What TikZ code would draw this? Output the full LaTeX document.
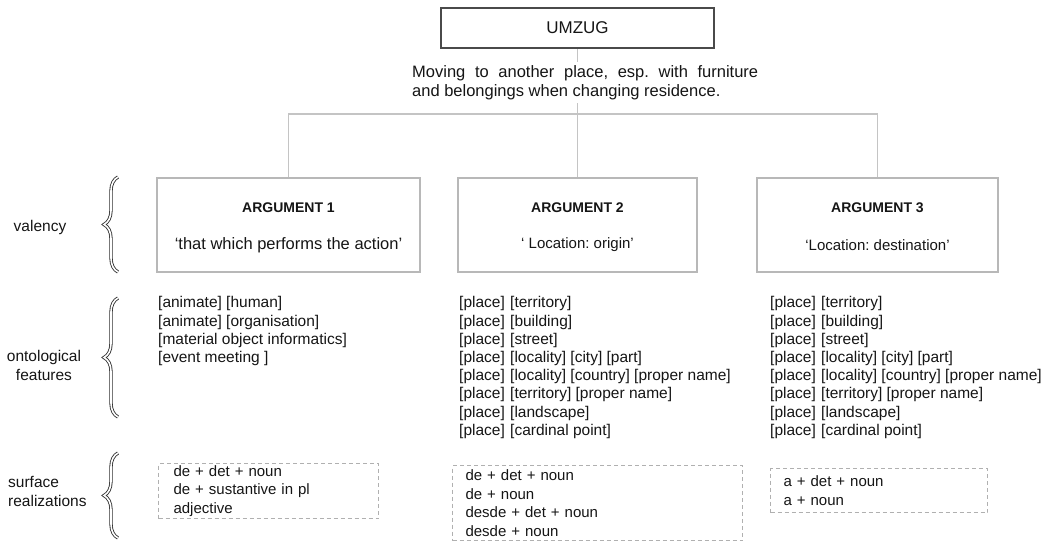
\documentclass[tikz,border=0pt]{standalone}
\usepackage{fontspec}
\setmainfont{Liberation Sans}
\usetikzlibrary{decorations.pathreplacing}
\definecolor{txt}{HTML}{151515}
\definecolor{boxgray}{HTML}{B8B8B8}
\definecolor{darkbox}{HTML}{4A4A4A}
\definecolor{linegray}{HTML}{C4C4C4}
\definecolor{dashgray}{HTML}{B0B0B0}
\definecolor{bracecol}{HTML}{2E2E2E}
\newcommand{\plc}[1]{\makebox[51pt][l]{[place]}#1}
\frenchspacing
\begin{document}
\begin{tikzpicture}[x=1pt,y=-1pt,
  every node/.style={text=txt},
  umzugbox/.style={draw=darkbox, line width=2pt, minimum width=273pt, minimum height=40pt, inner sep=0pt, font=\fontsize{17}{20}\selectfont},
  argbox/.style={draw=boxgray, line width=1.8pt, minimum height=94pt, inner sep=0pt},
  conn/.style={draw=linegray, line width=1.8pt},
  argtitle/.style={font=\fontsize{14}{16}\selectfont\bfseries, inner sep=0pt},
  argquote/.style={font=\fontsize{15}{18}\selectfont, inner sep=0pt},
  featlist/.style={font=\fontsize{15.5}{18.2}\selectfont, align=left, anchor=north west, inner sep=0pt},
  surfbox/.style={draw=dashgray, dash pattern=on 4pt off 3pt, line width=1pt, anchor=north west, align=left, inner ysep=0pt, font=\fontsize{15}{18.5}\selectfont},
  rowlabel/.style={font=\fontsize{15.5}{19}\selectfont, inner sep=0pt},
  defn/.style={font=\fontsize{16.5}{19}\selectfont, align=left, fill=white, inner xsep=0pt, inner ysep=3pt},
  bracest/.style={decorate, decoration={brace, amplitude=14pt}, draw=bracecol, line width=0.85pt, double=white, double distance=1.6pt}
]
\useasboundingbox (0,0) rectangle (1045,542);

% top
\node[umzugbox] (umzug) at (577.5,28) {UMZUG};

% argument boxes
\node[argbox, minimum width=263pt] (arg1) at (288.5,225) {};
\node[argbox, minimum width=239pt] (arg2) at (577.5,225) {};
\node[argbox, minimum width=241pt] (arg3) at (877.5,225) {};

% connectors
\coordinate (bar) at (577.5,114);
\draw[conn] (umzug.south) -- (bar);
\draw[conn] (arg1.north) |- (bar) -| (arg3.north);
\draw[conn] (bar) -- (arg2.north);

% definition
\node[defn, anchor=west] (def) at (412,82.5) {\makebox[346pt][s]{Moving to another place, esp. with furniture}\\and belongings when changing residence.};

% argument texts
\node[argtitle] (t1) at ([yshift=17pt]arg1.center) {ARGUMENT 1};
\node[argquote, font=\fontsize{16.5}{19}\selectfont] (q1) at ([yshift=-20pt]arg1.center) {‘that which performs the action’};
\node[argtitle] (t2) at ([yshift=17pt]arg2.center) {ARGUMENT 2};
\node[argquote] (q2) at ([yshift=-20pt]arg2.center) {‘ Location: origin’};
\node[argtitle] (t3) at ([yshift=17pt]arg3.center) {ARGUMENT 3};
\node[argquote] (q3) at ([yshift=-20pt]arg3.center) {‘Location: destination’};

% row labels
\node[rowlabel] (lv) at (40,227) {valency};
\node[rowlabel, align=center] (lo) at (44,365) {ontological\\features};
\node[rowlabel, align=left, anchor=west] (ls) at (8,491) {surface\\realizations};

% braces
\coordinate (b1a) at (118,272); \coordinate (b1b) at (118,177);
\coordinate (b2a) at (118,417); \coordinate (b2b) at (118,298);
\coordinate (b3a) at (118,538); \coordinate (b3b) at (118,453);
\draw[bracest] (b1a) -- (b1b);
\draw[bracest] (b2a) -- (b2b);
\draw[bracest] (b3a) -- (b3b);

% ontological features
\node[featlist] (f1) at (158,296.5) {{}[animate] [human]\\{}[animate] [organisation]\\{}[material object informatics]\\{}[event meeting ]};
\node[featlist] (f2) at (459,296.5) {\plc{[territory]}\\\plc{[building]}\\\plc{[street]}\\\plc{[locality] [city] [part]}\\\plc{[locality] [country] [proper name]}\\\plc{[territory] [proper name]}\\\plc{[landscape]}\\\plc{[cardinal point]}};
\node[featlist] (f3) at (770,296.5) {\plc{[territory]}\\\plc{[building]}\\\plc{[street]}\\\plc{[locality] [city] [part]}\\\plc{[locality] [country] [proper name]}\\\plc{[territory] [proper name]}\\\plc{[landscape]}\\\plc{[cardinal point]}};

% surface realizations
\node[surfbox, inner xsep=15pt, text width=190pt, minimum height=55pt] (s1) at (158,463) {de + det + noun\\de + sustantive in pl\\adjective};
\node[surfbox, inner xsep=13pt, text width=264pt, minimum height=75pt] (s2) at (452,465) {de + det + noun\\de + noun\\desde + det + noun\\desde + noun};
\node[surfbox, inner xsep=13pt, text width=191pt, minimum height=44pt] (s3) at (770,468) {a + det + noun\\a + noun};
\end{tikzpicture}
\end{document}
